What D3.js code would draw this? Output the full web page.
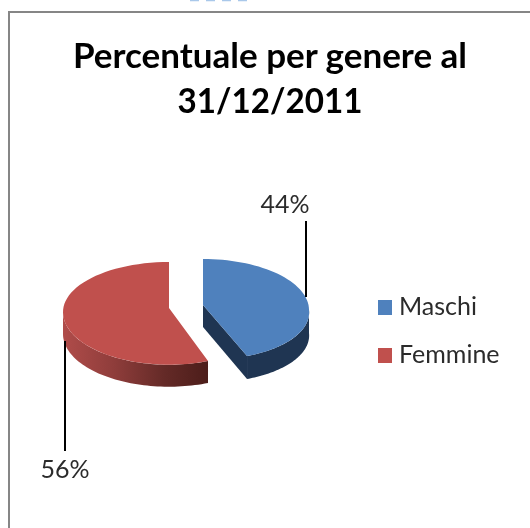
<!DOCTYPE html>
<html><head><meta charset="utf-8">
<script src="https://cdnjs.cloudflare.com/ajax/libs/d3/7.8.5/d3.min.js"></script>
<style>html,body{margin:0;padding:0;background:#fff;overflow:hidden}svg{display:block;filter:blur(.45px)}text{font-family:Lato,"Open Sans",sans-serif}</style>
</head><body><svg id="c" width="530" height="528"></svg>
<script>
const categories = ["Maschi", "Femmine"];
const values = [44, 56];
const labels = ["44%", "56%"];
const titleLines = ["Percentuale per genere al", "31/12/2011"];
const topColors = ["#4f81bd", "#c0504d"];

const svg = d3.select("#c");
const defs = svg.append("defs");
const g = defs.append("linearGradient").attr("id","redSide").attr("gradientUnits","userSpaceOnUse")
  .attr("x1",63).attr("x2",208).attr("y1",0).attr("y2",0);
[[0,"#b04c4a"],[.35,"#8f3d3b"],[.7,"#642a27"],[1,"#4c1d1a"]].forEach(s=>g.append("stop").attr("offset",s[0]).attr("stop-color",s[1]));

// frame
svg.append("path").attr("d","M9,528V12H530").attr("fill","none").attr("stroke","#868686").attr("stroke-width",2);
svg.append("line").attr("x1",190).attr("x2",252).attr("y1",.5).attr("y2",.5).attr("stroke","#a9c8ea").attr("stroke-width",1.5).attr("stroke-dasharray","9 7");

// title
svg.selectAll("text.t").data(titleLines).join("text").attr("class","t")
  .attr("x",270).attr("y",(d,i)=>[68,113][i]).attr("text-anchor","middle")
  .attr("font-size",35).attr("font-weight",700).attr("fill","#000").text(d=>d)
  .filter((d,i)=>i===1).attr("textLength",185).attr("lengthAdjust","spacingAndGlyphs");

// pie geometry per slice (projection of a tilted, exploded disc)
const geom = [
  {cx:203, cy:310, apexY:305, rx:106, back:51, front:49.5, skew:5.4, depth:23, side:"#1f3552"},
  {cx:169, cy:312, apexY:308, rx:106, back:50, front:52.7, skew:0, depth:22, side:"url(#redSide)"}
];
const arcs = d3.pie().sort(null).startAngle(0).endAngle(2*Math.PI)(values);
const line = d3.line().x(d=>d[0]).y(d=>d[1]);
const proj = (p,a,dz=0)=>{
  const c=Math.cos(a), s=Math.sin(a);
  return [p.cx+p.rx*s+(c<0?-c*p.skew:0), p.cy-(c>0?p.back:p.front)*c+dz];
};
const sample = (p,a0,a1,dz)=>d3.range(0,61).map(i=>proj(p,a0+(a1-a0)*i/60,dz));

arcs.forEach((d,i)=>{
  const p=geom[i], a0=d.startAngle, a1=d.endAngle;
  const rim=sample(p,a0,a1,0);
  // outer wall: only the part facing the viewer
  const w0=Math.max(a0,Math.PI/2), w1=Math.min(a1,3*Math.PI/2);
  const wallTop=sample(p,w0,w1,0), wallBot=sample(p,w0,w1,p.depth).reverse();
  svg.append("path").attr("d",line(wallTop.concat(wallBot))+"Z").attr("fill",p.side);
  if(i===0){ // cut face seen on the blue slice
    const e=proj(p,a1,0), b=proj(p,a1,p.depth), ap=[p.cx,p.apexY];
    svg.append("path").attr("d",line([ap,e,b,[p.cx,p.apexY+22]])+"Z").attr("fill",p.side);
  }
  svg.append("path").attr("d",line([[p.cx,p.apexY]].concat(rim))+"Z").attr("fill",topColors[i]);
});

// leader lines and labels
svg.append("line").attr("x1",306).attr("x2",306).attr("y1",221).attr("y2",297).attr("stroke","#000").attr("stroke-width",2);
svg.append("line").attr("x1",65).attr("x2",65).attr("y1",341).attr("y2",451).attr("stroke","#000").attr("stroke-width",2);
svg.selectAll("text.p").data(labels).join("text").attr("class","p")
  .attr("x",(d,i)=>[285,65][i]).attr("y",(d,i)=>[213,478][i]).attr("text-anchor","middle")
  .attr("font-size",25).attr("fill","#2b2b2b").text(d=>d);

// legend
const leg=svg.selectAll("g.l").data(categories).join("g").attr("class","l")
  .attr("transform",(d,i)=>`translate(378,${[300,348][i]})`);
leg.append("rect").attr("width",14).attr("height",15).attr("fill",(d,i)=>topColors[i]);
leg.append("text").attr("x",21).attr("y",15).attr("font-size",25).attr("fill","#2b2b2b").text(d=>d);
</script></body></html>
